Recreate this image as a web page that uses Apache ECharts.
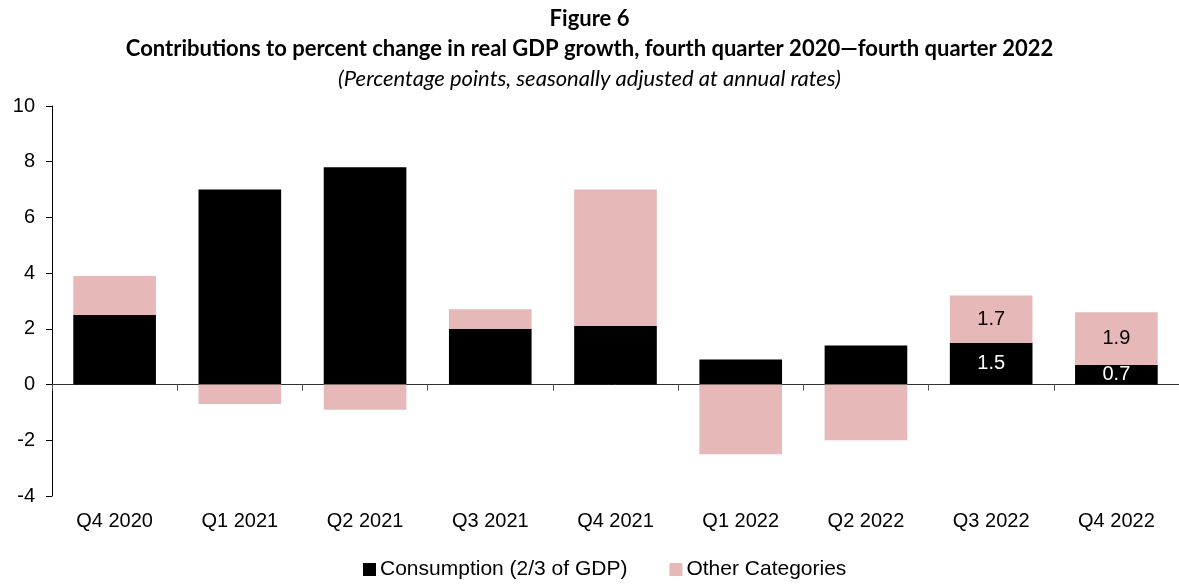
<!DOCTYPE html>
<html>
<head>
<meta charset="utf-8">
<script src="https://cdn.jsdelivr.net/npm/echarts@6/dist/echarts.min.js"></script>
<style>
html,body{margin:0;padding:0;background:#fff;}
#main{width:1179px;height:584px;}
</style>
</head>
<body>
<div id="main"></div>
<script>
var categories = ['Q4 2020','Q1 2021','Q2 2021','Q3 2021','Q4 2021','Q1 2022','Q2 2022','Q3 2022','Q4 2022'];
var consumption = [2.5, 7.0, 7.8, 2.0, 2.1, 0.9, 1.4, 1.5, 0.7];
var otherCats = [1.4, -0.7, -0.9, 0.7, 4.9, -2.5, -2.0, 1.7, 1.9];
var labelled = [7, 8]; // only the last two quarters carry value labels

var chart = echarts.init(document.getElementById('main'));

function withLabels(arr, color) {
    return arr.map(function (v, i) {
        if (labelled.indexOf(i) < 0) return v;
        return {value: v, label: {show: true, position: 'inside', color: color,
            fontFamily: 'Liberation Sans', fontSize: 20}};
    });
}

var option = {
    animation: false,
    title: [
        {text: 'Figure 6', left: 'center', top: 3,
         textStyle: {fontFamily: 'Lato', fontWeight: 'bold', fontSize: 22, color: '#000'}},
        {text: 'Contributions to percent change in real GDP growth, fourth quarter 2020\u2014fourth quarter 2022',
         left: 'center', top: 33,
         textStyle: {fontFamily: 'Lato', fontWeight: 'bold', fontSize: 22, color: '#000'}},
        {text: '(Percentage points, seasonally adjusted at annual rates)', left: 'center', top: 63,
         textStyle: {fontFamily: 'Lato', fontStyle: 'italic', fontWeight: 'normal', fontSize: 22, color: '#000'}}
    ],
    legend: {
        top: 559,
        left: 363,
        padding: 0,
        itemWidth: 13,
        itemHeight: 13,
        itemGap: 42,
        icon: 'rect',
        textStyle: {fontFamily: 'Liberation Sans', fontSize: 21, color: '#000', padding: [0, 0, 0, -1]},
        data: ['Consumption (2/3 of GDP)', 'Other Categories']
    },
    grid: {left: 52, right: 0, top: 106, bottom: 88, containLabel: false},
    xAxis: [
        {
            type: 'category',
            data: categories,
            axisLine: {onZero: true, lineStyle: {color: '#333', width: 1}},
            axisTick: {show: true, length: 6, lineStyle: {color: '#555'}},
            axisLabel: {show: false}
        },
        {
            type: 'category',
            data: categories,
            position: 'bottom',
            axisLine: {show: false, onZero: false},
            axisTick: {show: false},
            axisLabel: {fontFamily: 'Liberation Sans', fontSize: 20, color: '#000', margin: 15}
        }
    ],
    yAxis: {
        type: 'value',
        min: -4,
        max: 10,
        interval: 2,
        splitLine: {show: false},
        axisLine: {show: true, lineStyle: {color: '#000'}},
        axisTick: {show: true, length: 6, lineStyle: {color: '#000'}},
        axisLabel: {fontFamily: 'Liberation Sans', fontSize: 20, color: '#000', margin: 17}
    },
    series: [
        {
            name: 'Consumption (2/3 of GDP)',
            type: 'bar',
            stack: 'gdp',
            barWidth: '66%',
            itemStyle: {color: '#000000'},
            data: withLabels(consumption, '#fff')
        },
        {
            name: 'Other Categories',
            type: 'bar',
            stack: 'gdp',
            barWidth: '66%',
            itemStyle: {color: '#e6b8b7'},
            data: withLabels(otherCats, '#000')
        }
    ]
};

chart.setOption(option);
</script>
</body>
</html>
